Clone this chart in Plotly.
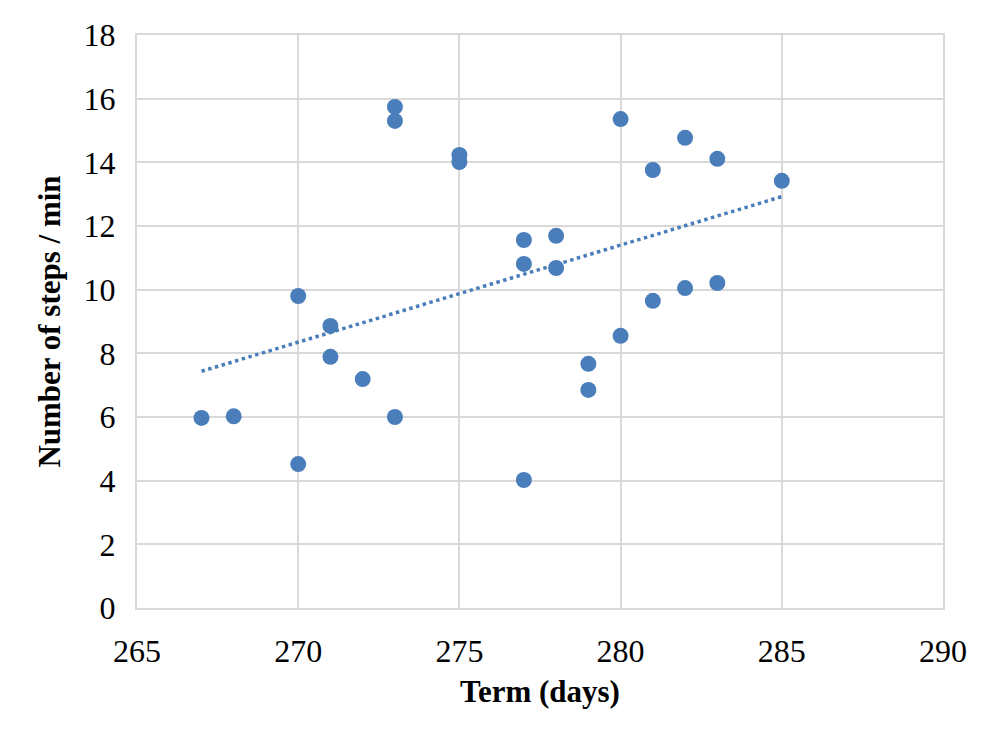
import numpy as np
import plotly.graph_objects as go

# term (days) and cadence
term_days = [267, 268, 270, 270, 271, 271, 272, 273, 273, 273, 275, 275, 277, 277, 277,
             278, 278, 279, 279, 280, 280, 281, 281, 282, 282, 283, 283, 285]
steps_per_min = [5.97, 6.02, 9.80, 4.52, 8.86, 7.89, 7.19, 15.74, 15.30, 6.00, 14.23, 14.01,
                 11.56, 10.81, 4.02, 11.69, 10.68, 7.67, 6.85, 15.36, 8.55, 13.76, 9.65,
                 14.77, 10.05, 14.11, 10.21, 13.42]

x_ticks = [265, 270, 275, 280, 285, 290]
y_ticks = [0, 2, 4, 6, 8, 10, 12, 14, 16, 18]

blue = "#4a7ebb"
grid = "#d9d9d9"
font = "Liberation Serif, Times New Roman, serif"

# linear trend line, as Excel would add it
slope, intercept = np.polyfit(term_days, steps_per_min, 1)
trend_x = np.array([min(term_days), max(term_days)])
trend_y = slope * trend_x + intercept

fig = go.Figure()
fig.add_trace(go.Scatter(x=trend_x, y=trend_y, mode="lines",
                         line=dict(color=blue, width=3.5, dash="dot"), hoverinfo="skip"))
fig.add_trace(go.Scatter(x=term_days, y=steps_per_min, mode="markers",
                         marker=dict(color=blue, size=16)))

# light page border seen at top / left of the picture
fig.add_shape(type="line", xref="paper", yref="paper", x0=-0.166, x1=1.1, y0=1.056, y1=1.056,
              line=dict(color=grid, width=2))
fig.add_shape(type="line", xref="paper", yref="paper", x0=-0.166, x1=-0.166, y0=-0.3, y1=1.056,
              line=dict(color=grid, width=2))

# page body has an 8px margin, so pull the plot area up/left by that much
fig.update_layout(
    width=1002, height=731,
    margin=dict(l=129, r=67, t=27, b=131, autoexpand=False),
    paper_bgcolor="white", plot_bgcolor="white",
    showlegend=False,
    font=dict(family=font, color="black", size=32),
)
fig.update_xaxes(
    range=[265, 290], tickvals=x_ticks, showgrid=True, gridcolor=grid, gridwidth=2,
    showline=True, linecolor=grid, linewidth=2, mirror=True, zeroline=False,
    ticks="", ticklabelstandoff=14, tickfont=dict(size=32), automargin=False,
    title=dict(text="<b>Term (days)</b>", font=dict(size=31), standoff=12),
)
fig.update_yaxes(
    range=[0, 18], tickvals=y_ticks, showgrid=True, gridcolor=grid, gridwidth=2,
    showline=True, linecolor=grid, linewidth=2, mirror=True, zeroline=False,
    ticks="", ticklabelstandoff=13, tickfont=dict(size=32), automargin=False,
    title=dict(text="<b>Number of steps / min</b>", font=dict(size=31), standoff=14),
)

fig.write_html("out.html")
